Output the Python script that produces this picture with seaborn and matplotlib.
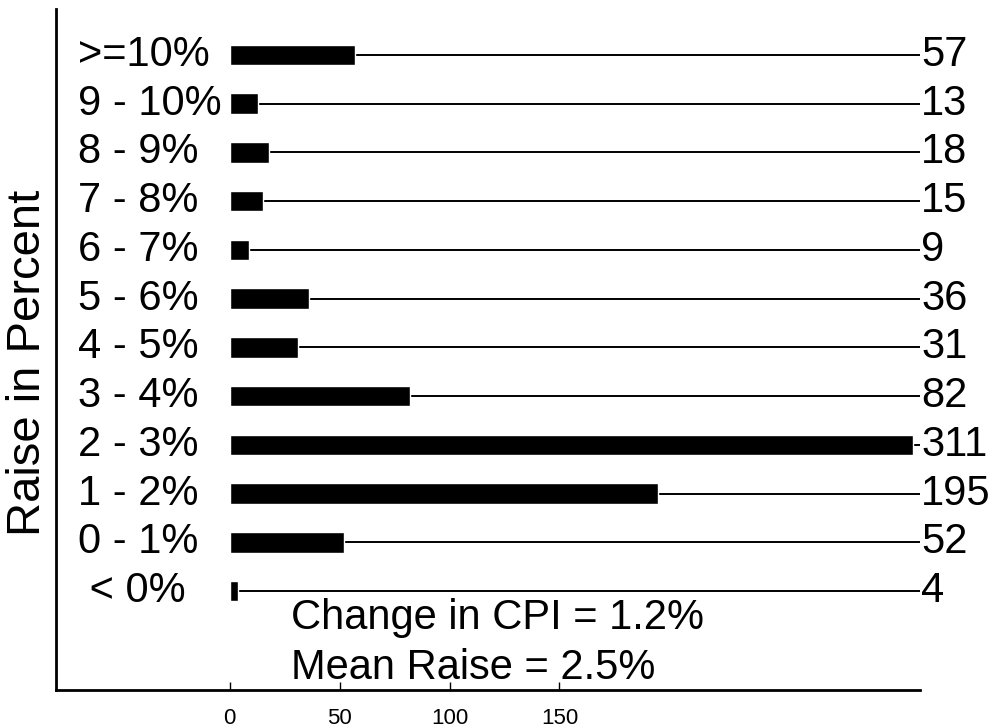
import numpy as np
import pandas as pd
import seaborn as sns
import matplotlib.pyplot as plt

# raise buckets, top to bottom as drawn
raise_bins = [">=10%", "9 - 10%", "8 - 9%", "7 - 8%", "6 - 7%", "5 - 6%",
              "4 - 5%", "3 - 4%", "2 - 3%", "1 - 2%", "0 - 1%", " < 0%"]
counts = [57, 13, 18, 15, 9, 36, 31, 82, 311, 195, 52, 4]
x_ticks = [0, 50, 100, 150]
notes = ["Change in CPI = 1.2%", "Mean Raise = 2.5%"]

sns.set_theme(style="white")
plt.rcParams['font.family'] = ['Liberation Sans', 'DejaVu Sans']
plt.rcParams['text.color'] = 'black'
plt.rcParams['axes.labelcolor'] = 'black'
plt.rcParams['xtick.color'] = 'black'

df = pd.DataFrame({"bin": raise_bins, "count": counts})

fig = plt.figure(figsize=(9.94, 7.28), dpi=100)
ax = fig.add_axes([56 / 994, 38 / 728, 864 / 994, 681 / 728])

xmax = 314
ax.hlines(range(len(raise_bins)), 0, xmax, color="black", lw=1.4, zorder=1)
sns.barplot(data=df, x="count", y="bin", orient="h", color="black",
            width=0.42, saturation=1, ax=ax, zorder=3)

ax.set_xlim(-79, xmax)
ax.set_ylim(13.03, -0.94)

for i, (lab, c) in enumerate(zip(raise_bins, counts)):
    ax.text(-69, i, lab, ha="left", va="center", fontsize=30, color="black")
    ax.text(xmax + 0.5, i, str(c), ha="left", va="center", fontsize=30,
            color="black", clip_on=False)

ax.text(28, 11.55, notes[0], ha="left", va="center", fontsize=30, color="black")
ax.text(28, 12.58, notes[1], ha="left", va="center", fontsize=30, color="black")

ax.set_yticks([])
ax.set_xticks(x_ticks)
ax.set_xticklabels([str(t) for t in x_ticks])
ax.tick_params(axis="x", direction="in", length=6, width=1, color="black",
               labelsize=16, pad=13, bottom=True, labelcolor="black")
ax.set_xlabel("")
ax.set_ylabel("Raise in Percent", fontsize=34, color="black")
ax.yaxis.set_label_coords(-6 / 864, 0.481)

for s in ["top", "right"]:
    ax.spines[s].set_visible(False)
for s in ["left", "bottom"]:
    ax.spines[s].set_color("black")
    ax.spines[s].set_linewidth(2)

fig.savefig("out.png", dpi=100)
